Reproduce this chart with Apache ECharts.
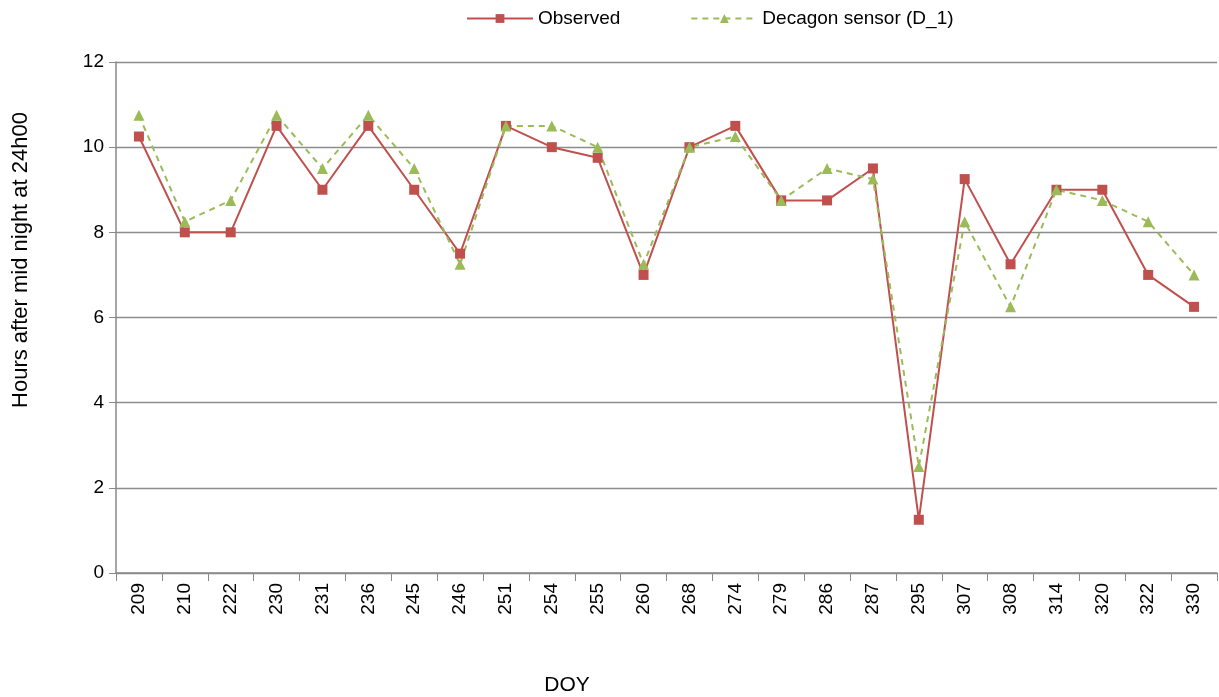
<!DOCTYPE html>
<html>
<head>
<meta charset="utf-8">
<script src="https://cdn.jsdelivr.net/npm/echarts@6/dist/echarts.min.js"></script>
<style>
  html, body { margin: 0; padding: 0; background: #fff; }
  #chart { width: 1219px; height: 697px; }
</style>
</head>
<body>
<div id="chart"></div>
<script>
var doy = ['209', '210', '222', '230', '231', '236', '245', '246', '251', '254', '255', '260',
           '268', '274', '279', '286', '287', '295', '307', '308', '314', '320', '322', '330'];
var observed = [10.25, 8, 8, 10.5, 9, 10.5, 9, 7.5, 10.5, 10, 9.75, 7,
                10, 10.5, 8.75, 8.75, 9.5, 1.25, 9.25, 7.25, 9, 9, 7, 6.25];
var decagon = [10.75, 8.25, 8.75, 10.75, 9.5, 10.75, 9.5, 7.25, 10.5, 10.5, 10, 7.25,
               10, 10.25, 8.75, 9.5, 9.25, 2.5, 8.25, 6.25, 9, 8.75, 8.25, 7];

var myChart = echarts.init(document.getElementById('chart'));
var font = 'Liberation Sans';

var option = {
    animation: false,
    textStyle: { fontFamily: font },
    legend: {
        top: 4,
        left: 461,
        itemGap: 70,
        itemWidth: 66,
        itemHeight: 11,
        textStyle: { fontSize: 19, color: '#000', fontFamily: font },
        data: ['Observed', 'Decagon sensor (D_1)']
    },
    // axis titles sit off-centre in the original, so they are placed by hand
    graphic: [{
        type: 'text',
        x: 21,
        y: 260,
        rotation: Math.PI / 2,
        style: {
            text: 'Hours after mid night at 24h00',
            font: '22px "Liberation Sans"',
            fill: '#000',
            textAlign: 'center',
            textVerticalAlign: 'middle'
        }
    }, {
        type: 'text',
        x: 567,
        y: 685,
        style: {
            text: 'DOY',
            font: '21px "Liberation Sans"',
            fill: '#000',
            textAlign: 'center',
            textVerticalAlign: 'middle'
        }
    }],
    grid: { left: 116, right: 2, top: 62, bottom: 124 },
    xAxis: {
        type: 'category',
        data: doy,
        boundaryGap: true,
        axisLine: { lineStyle: { color: '#898989', width: 1.5 } },
        axisTick: { show: true, length: 8, lineStyle: { color: '#898989' } },
        axisLabel: { rotate: 90, fontSize: 19, color: '#000', margin: 10, interval: 0 }
    },
    yAxis: {
        type: 'value',
        min: 0,
        max: 12,
        interval: 2,
        axisLine: { show: true, lineStyle: { color: '#898989', width: 1.5 } },
        axisTick: { show: true, length: 7, lineStyle: { color: '#898989' } },
        axisLabel: { fontSize: 19, color: '#000', margin: 12 },
        splitLine: { lineStyle: { color: '#8c8c8c', width: 1.3 } }
    },
    series: [{
        name: 'Observed',
        type: 'line',
        data: observed,
        symbol: 'rect',
        symbolSize: 10,
        itemStyle: { color: '#c0504d' },
        lineStyle: { color: '#c0504d', width: 2 }
    }, {
        name: 'Decagon sensor (D_1)',
        type: 'line',
        data: decagon,
        symbol: 'triangle',
        symbolSize: 11,
        itemStyle: { color: '#9bbb59' },
        lineStyle: { color: '#9bbb59', width: 2, type: [6, 5] }
    }]
};

myChart.setOption(option);
</script>
</body>
</html>
